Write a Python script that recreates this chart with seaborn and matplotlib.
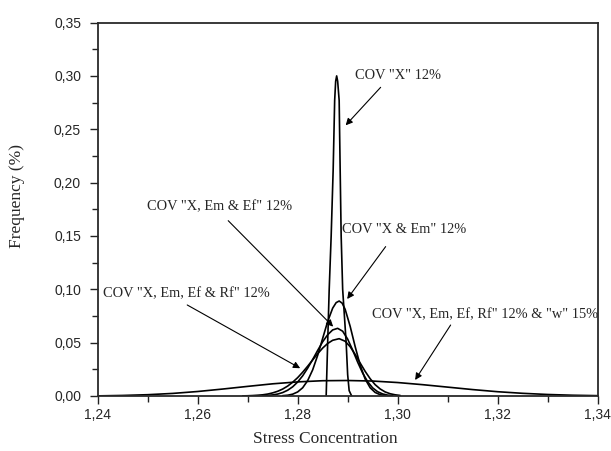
import numpy as np
import pandas as pd
import seaborn as sns
import matplotlib.pyplot as plt
from matplotlib.ticker import MultipleLocator, FuncFormatter

# curve readings (stress concentration, frequency)
x_cov_x = [1.2857, 1.2860, 1.2863, 1.2867, 1.2871, 1.2874, 1.2876, 1.2878, 1.2880, 1.2883,
           1.2885, 1.2887, 1.2890, 1.2897, 1.2900, 1.2903, 1.2908]
y_cov_x = [0.000, 0.050, 0.099, 0.150, 0.212, 0.277, 0.295, 0.300, 0.295, 0.277,
           0.212, 0.150, 0.100, 0.050, 0.020, 0.005, 0.000]

x_cov_em = [1.277, 1.278, 1.279, 1.280, 1.281, 1.282, 1.283, 1.284, 1.285, 1.286, 1.287, 1.2877,
            1.2883, 1.2889, 1.2895, 1.2905, 1.2915, 1.2925, 1.2935, 1.2945, 1.2955, 1.2965, 1.2975]
y_cov_em = [0.0003, 0.0007, 0.0017, 0.0038, 0.0077, 0.0144, 0.0245, 0.0381, 0.0540, 0.0698, 0.0823, 0.0875,
            0.0890, 0.0870, 0.0812, 0.0653, 0.0463, 0.0289, 0.0159, 0.0077, 0.0033, 0.0012, 0.0004]

x_cov_ef = [1.273, 1.274, 1.275, 1.276, 1.277, 1.278, 1.279, 1.280, 1.281, 1.282, 1.283, 1.284,
            1.285, 1.286, 1.287, 1.288, 1.289, 1.290, 1.291, 1.292, 1.293, 1.294, 1.295, 1.296,
            1.297, 1.298, 1.299]
y_cov_ef = [0.0002, 0.0005, 0.0010, 0.0018, 0.0032, 0.0054, 0.0086, 0.0131, 0.0189, 0.0261, 0.0342, 0.0427,
            0.0508, 0.0574, 0.0619, 0.0634, 0.0607, 0.0533, 0.0430, 0.0317, 0.0215, 0.0134, 0.0076, 0.0040,
            0.0019, 0.0008, 0.0003]

x_cov_rf = [1.269, 1.270, 1.271, 1.272, 1.273, 1.274, 1.275, 1.276, 1.277, 1.278, 1.279, 1.280,
            1.281, 1.282, 1.283, 1.284, 1.285, 1.286, 1.287, 1.2883, 1.2895, 1.2905, 1.2915, 1.2925,
            1.2935, 1.2945, 1.2955, 1.2965, 1.2975, 1.2985, 1.2995, 1.3005]
y_cov_rf = [0.0001, 0.0002, 0.0004, 0.0007, 0.0011, 0.0018, 0.0029, 0.0044, 0.0065, 0.0093, 0.0129, 0.0172,
            0.0223, 0.0279, 0.0338, 0.0396, 0.0449, 0.0492, 0.0522, 0.0537, 0.0513, 0.0462, 0.0390, 0.0309,
            0.0231, 0.0162, 0.0106, 0.0066, 0.0038, 0.0021, 0.0011, 0.0005]

x_cov_w = [1.240, 1.245, 1.250, 1.255, 1.260, 1.265, 1.270, 1.275, 1.280, 1.285, 1.290,
           1.295, 1.300, 1.305, 1.310, 1.315, 1.320, 1.325, 1.330, 1.335, 1.340]
y_cov_w = [0.0001, 0.0005, 0.0012, 0.0024, 0.0042, 0.0065, 0.0090, 0.0114, 0.0132, 0.0143, 0.0145,
           0.0140, 0.0126, 0.0106, 0.0083, 0.0060, 0.0040, 0.0025, 0.0014, 0.0007, 0.0003]

labels = ['COV "X" 12%', 'COV "X & Em" 12%', 'COV "X, Em & Ef" 12%',
          'COV "X, Em, Ef & Rf" 12%', 'COV "X, Em, Ef, Rf" 12% & "w" 15%']
label_pos = [(1.2915, 0.300), (1.2888, 0.1556), (1.2499, 0.1774), (1.2410, 0.0956), (1.2949, 0.0759)]
arrow_tail = [(1.2966, 0.2893), (1.2976, 0.1400), (1.2661, 0.1643), (1.2579, 0.0853), (1.3106, 0.0665)]
arrow_head = [(1.2896, 0.2537), (1.2899, 0.0909), (1.2871, 0.0650), (1.2805, 0.0260), (1.3035, 0.0150)]

sns.set_style('ticks')
plt.rcParams['font.family'] = ['Liberation Sans', 'DejaVu Sans']

fig = plt.figure(figsize=(6.11, 4.51), dpi=100)
ax = fig.add_axes([0.160, 0.122, 0.818, 0.828])

curves = [(x_cov_x, y_cov_x), (x_cov_em, y_cov_em), (x_cov_ef, y_cov_ef),
          (x_cov_rf, y_cov_rf), (x_cov_w, y_cov_w)]
for (xs, ys) in curves:
    sns.lineplot(x=xs, y=ys, color='black', linewidth=1.2, estimator=None, sort=False, ax=ax)

serif = ['Liberation Serif', 'DejaVu Serif']
for lab, pos, tail, head in zip(labels, label_pos, arrow_tail, arrow_head):
    ax.text(pos[0], pos[1], lab, ha='left', va='center', fontsize=10.4, family=serif)
    ax.annotate('', xy=head, xytext=tail,
                arrowprops=dict(arrowstyle='-|>', color='black', lw=0.8,
                                mutation_scale=10, shrinkA=0, shrinkB=0))

ax.set_xlim(1.24, 1.34)
ax.set_ylim(0, 0.35)
ax.xaxis.set_major_locator(MultipleLocator(0.02))
ax.xaxis.set_minor_locator(MultipleLocator(0.01))
ax.yaxis.set_major_locator(MultipleLocator(0.05))
ax.yaxis.set_minor_locator(MultipleLocator(0.025))
comma = FuncFormatter(lambda v, p: f'{v:.2f}'.replace('.', ','))
ax.xaxis.set_major_formatter(comma)
ax.yaxis.set_major_formatter(comma)
ax.tick_params(which='major', length=6, width=1.0, labelsize=10, pad=3, color='#222222')
ax.tick_params(which='minor', length=4, width=1.0, color='#222222')
ax.tick_params(axis='y', which='major', pad=6)

for s in ax.spines.values():
    s.set_linewidth(1.3)
    s.set_color('#2a2a2a')

ax.set_xlabel('Stress Concentration', fontsize=12.5, family=serif)
ax.set_ylabel('Frequency (%)', fontsize=12.5, family=serif)
ax.xaxis.set_label_coords(0.455, -0.095)
ax.yaxis.set_label_coords(-0.145, 0.536)

fig.savefig('out.png', dpi=100)
